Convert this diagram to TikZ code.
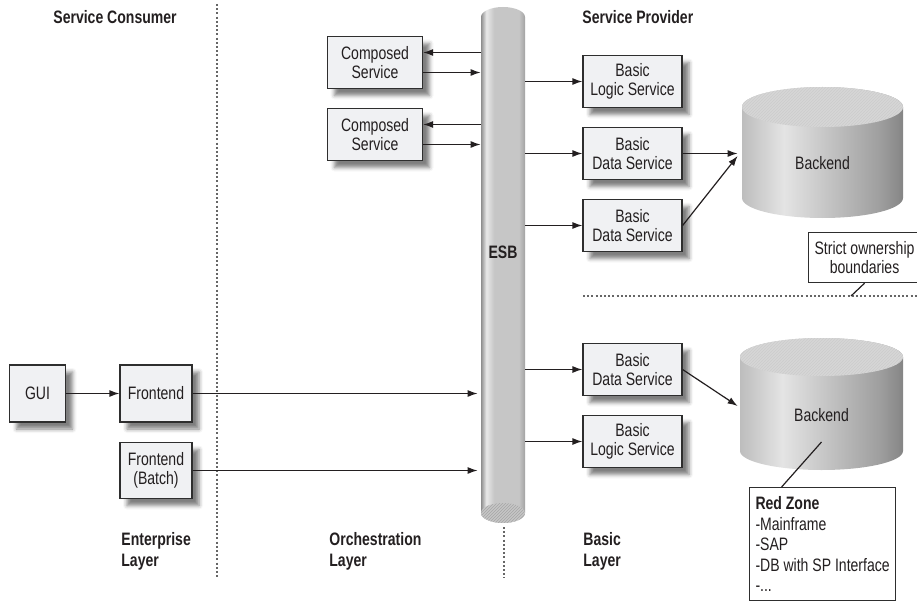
\documentclass[tikz,border=0pt]{standalone}
\usepackage{fontspec}
\setmainfont[FakeStretch=0.78]{Liberation Sans}
\usetikzlibrary{arrows.meta,shadows.blur,patterns}

\definecolor{ink}{HTML}{231F20}
\definecolor{edge}{HTML}{2E2E2E}
\definecolor{boxfill}{HTML}{F0F1F3}
\definecolor{dotgray}{HTML}{666666}
\definecolor{esbA}{HTML}{8E8E8E}
\definecolor{esbB}{HTML}{E8E8E8}
\definecolor{esbC}{HTML}{C6C6C6}
\definecolor{esbD}{HTML}{A2A2A2}
\definecolor{dbA}{HTML}{BDBDBD}
\definecolor{dbB}{HTML}{E4E4E4}
\definecolor{dbC}{HTML}{9E9E9E}
\definecolor{dbD}{HTML}{858585}

\pgfdeclarehorizontalshading{esbbody}{100bp}{color(0bp)=(esbA); color(25bp)=(esbA); color(31bp)=(esbB); color(40bp)=(esbC); color(68bp)=(esbC); color(75bp)=(esbD); color(100bp)=(esbD)}
\pgfdeclarehorizontalshading{dbbody}{100bp}{color(0bp)=(dbA); color(25bp)=(dbA); color(38bp)=(dbB); color(68bp)=(dbC); color(75bp)=(dbD); color(100bp)=(dbD)}

\begin{document}
\begin{tikzpicture}[x=1pt,y=-1pt,thick,
	>={Latex[length=10pt,width=7pt]},
	every node/.style={text=ink, font=\fontsize{18}{19.5}\selectfont},
	block/.style={draw=edge, fill=boxfill, line width=1.2pt, align=center, inner sep=1pt,
		blur shadow={shadow xshift=7pt, shadow yshift=-7pt, shadow blur radius=4pt, shadow opacity=50}},
	compbox/.style={block, minimum width=95pt, minimum height=52pt},
	basicbox/.style={block, minimum width=99pt, minimum height=52pt},
	note/.style={draw=edge, fill=white, line width=1.2pt, inner sep=3pt},
	layer/.style={font=\fontsize{18}{21}\selectfont\bfseries, align=left, anchor=west, inner sep=0pt},
	boundary/.style={draw=dotgray, line width=2.2pt, dash pattern=on 2pt off 2.2pt},
	link/.style={draw=ink, line width=1.2pt}]

	\useasboundingbox (0,0) rectangle (917,604);

	% headings and zone boundaries
	\node[layer] (cons) at (53,17) {Service Consumer};
	\node[layer] (prov) at (582,17) {Service Provider};
	\draw[boundary] (217,4) -- (217,578);
	\draw[boundary] (504,527) -- (504,578);
	\draw[boundary] (583,296) -- (917,296);

	% the bus
	\shade[shading=esbbody] (481,513) -- (481,17) arc[start angle=180,end angle=0,x radius=22pt,y radius=10pt]
		-- (525,513) arc[start angle=0,end angle=-180,x radius=22pt,y radius=10pt] -- cycle;
	\fill[gray!45] (503,513) ellipse[x radius=22pt,y radius=10pt];
	\fill[pattern=north east lines, pattern color=gray!70] (503,513) ellipse[x radius=22pt,y radius=10pt];
	\node[inner sep=0pt, minimum width=44pt, font=\fontsize{18}{19.5}\selectfont\bfseries] (esb) at (503,252) {ESB};

	% backends
	\shade[shading=dbbody] (742,107) -- (742,198) arc[start angle=180,end angle=360,x radius=80.5pt,y radius=20pt]
		-- (903,107) arc[start angle=0,end angle=180,x radius=80.5pt,y radius=20pt] -- cycle;
	\fill[gray!32] (822.5,107) ellipse[x radius=80.5pt,y radius=20pt];
	\fill[pattern=north east lines, pattern color=gray!40] (822.5,107) ellipse[x radius=80.5pt,y radius=20pt];
	\node[inner sep=0pt, minimum width=161pt] (bk1) at (822.5,163) {Backend};

	\shade[shading=dbbody] (740,357) -- (740,451) arc[start angle=180,end angle=360,x radius=81.5pt,y radius=19pt]
		-- (903,357) arc[start angle=0,end angle=180,x radius=81.5pt,y radius=19pt] -- cycle;
	\fill[gray!32] (821.5,357) ellipse[x radius=81.5pt,y radius=19pt];
	\fill[pattern=north east lines, pattern color=gray!40] (821.5,357) ellipse[x radius=81.5pt,y radius=19pt];
	\node[inner sep=0pt, minimum width=163pt] (bk2) at (821.5,415) {Backend};

	% services
	\node[compbox] (cs1) at (375,62.5) {Composed\\Service};
	\node[compbox] (cs2) at (375,134.5) {Composed\\Service};
	\node[basicbox] (bl1) at (632.5,81.5) {Basic\\Logic Service};
	\node[basicbox] (bd1) at (632.5,153.5) {Basic\\Data Service};
	\node[basicbox] (bd2) at (632.5,225.5) {Basic\\Data Service};
	\node[basicbox] (bd3) at (632.5,369.5) {Basic\\Data Service};
	\node[basicbox] (bl2) at (632.5,441.5) {Basic\\Logic Service};

	\node[block, minimum width=56pt, minimum height=57pt] (gui) at (37.5,393.5) {GUI};
	\node[block, minimum width=72pt, minimum height=57pt] (fe) at (156,393.5) {Frontend};
	\node[block, minimum width=72pt, minimum height=56pt] (feb) at (156,470.5) {Frontend\\(Batch)};

	% notes
	\node[note, align=center, inner xsep=6pt, minimum height=50pt, anchor=north west] (own) at (808,232) {Strict ownership\\boundaries};
	\coordinate (ownpt) at (851,296);
	\node[note, align=left, anchor=north west, inner xsep=2pt, minimum width=146pt, minimum height=113pt,
		font=\fontsize{18}{20.5}\selectfont] (rz) at (749,487) {\textbf{Red Zone}\\-Mainframe\\-SAP\\-DB with SP Interface\\-...};

	% layer names
	\node[layer] (entl) at (121,551) {Enterprise\\Layer};
	\node[layer] (orchl) at (329,551) {Orchestration\\Layer};
	\node[layer] (basl) at (583,551) {Basic\\Layer};

	% connectors
	\draw[link,<-] ([yshift=10pt]cs1.east) -- ([yshift=10pt]cs1.east -| esb.west);
	\draw[link,->] ([yshift=-10pt]cs1.east) -- ([yshift=-10pt]cs1.east -| esb.west);
	\draw[link,<-] ([yshift=10pt]cs2.east) -- ([yshift=10pt]cs2.east -| esb.west);
	\draw[link,->] ([yshift=-10pt]cs2.east) -- ([yshift=-10pt]cs2.east -| esb.west);
	\draw[link,->] (bl1.west -| esb.east) -- (bl1.west);
	\draw[link,->] (bd1.west -| esb.east) -- (bd1.west);
	\draw[link,->] (bd2.west -| esb.east) -- (bd2.west);
	\draw[link,->] (bd3.west -| esb.east) -- (bd3.west);
	\draw[link,->] (bl2.west -| esb.east) -- (bl2.west);
	\draw[link,->] (gui) -- (fe);
	\draw[link,->,shorten >=3pt] (fe.east) -- (fe.east -| esb.west);
	\draw[link,->,shorten >=3pt] (feb.east) -- (feb.east -| esb.west);
	\draw[link,->,shorten >=4pt] (bd1.east) -- (bd1.east -| bk1.west);
	\draw[link,->] (bd2.east) -- ([shift={(-4pt,7pt)}]bk1.west);
	\draw[link,->] (bd3.east) -- ([shift={(-2pt,9pt)}]bk2.west);
	\draw[link] ([xshift=-41pt]rz.north) -- ([yshift=-27pt]bk2.center);
	\draw[link] (own.south) -- (ownpt);
\end{tikzpicture}
\end{document}
